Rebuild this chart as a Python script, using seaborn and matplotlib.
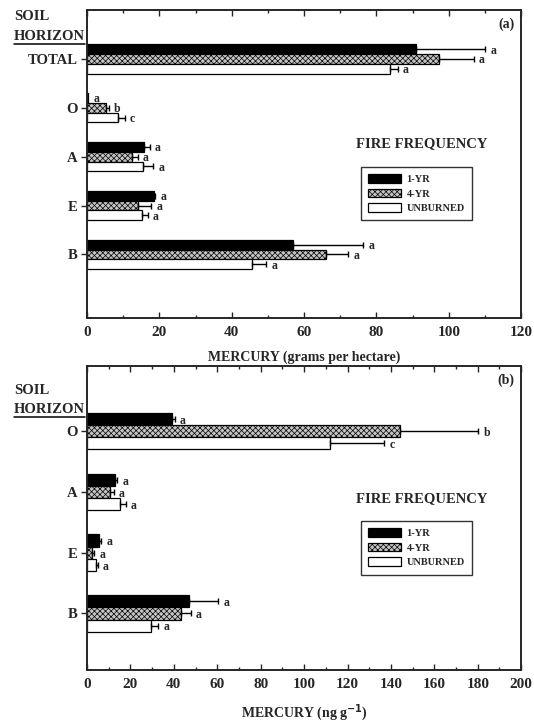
import matplotlib
matplotlib.use("Agg")
import matplotlib.pyplot as plt
import seaborn as sns
import pandas as pd
from matplotlib.patches import Patch
from matplotlib.lines import Line2D
from matplotlib.ticker import MultipleLocator

groups = ["1-YR", "4-YR", "UNBURNED"]

# (a) mercury pools, grams per hectare
horizons_a = ["TOTAL", "O", "A", "E", "B"]
yr1_a = [90.8, 0.3, 15.7, 18.5, 56.8]
yr4_a = [97.3, 5.3, 12.4, 14.0, 66.0]
unb_a = [83.8, 8.5, 15.4, 15.2, 45.7]
yr1_err_a = [19.2, 0.0, 1.6, 0.4, 19.5]
yr4_err_a = [9.6, 0.7, 1.6, 3.8, 6.2]
unb_err_a = [2.1, 1.9, 2.9, 1.6, 3.8]
yr1_let_a = ["a", "a", "a", "a", "a"]
yr4_let_a = ["a", "b", "a", "a", "a"]
unb_let_a = ["a", "c", "a", "a", "a"]

# (b) mercury concentration, ng per g
horizons_b = ["O", "A", "E", "B"]
yr1_b = [39.3, 12.7, 5.7, 46.9]
yr4_b = [144.1, 10.4, 2.5, 43.4]
unb_b = [111.7, 15.1, 3.9, 29.3]
yr1_err_b = [1.0, 1.1, 0.7, 13.4]
yr4_err_b = [36.2, 1.9, 0.8, 4.3]
unb_err_b = [25.3, 2.7, 1.0, 3.4]
yr1_let_b = ["a", "a", "a", "a"]
yr4_let_b = ["b", "a", "a", "a"]
unb_let_b = ["c", "a", "a", "a"]

sns.set_style("ticks")
plt.rcParams["font.family"] = ["Liberation Serif", "DejaVu Serif"]
plt.rcParams["font.weight"] = "bold"
plt.rcParams["mathtext.default"] = "bf"
plt.rcParams["hatch.linewidth"] = 0.5

colors = {"1-YR": "black", "4-YR": "#c4c4c4", "UNBURNED": "white"}
HATCH = "xxxxxx"


def draw_panel(ax, horizons, vals, errs, lets, xmax, ylim, tag, xlabel):
    df = pd.DataFrame({
        "horizon": horizons * 3,
        "group": [g for g in groups for _ in horizons],
        "value": vals[0] + vals[1] + vals[2],
    })
    sns.barplot(data=df, x="value", y="horizon", hue="group", order=horizons,
                hue_order=groups, palette=colors, orient="h", width=0.6,
                errorbar=None, saturation=1, edgecolor="black", linewidth=0.9,
                legend=False, ax=ax)
    n = len(horizons)
    for i, g in enumerate(groups):
        for j in range(n):
            p = ax.patches[i * n + j]
            if g == "4-YR":
                p.set_hatch(HATCH)
            y = p.get_y() + p.get_height() / 2
            x = p.get_width()
            e = errs[i][j]
            if e > 0:
                ax.errorbar(x, y, xerr=[[0], [e]], fmt="none", ecolor="black",
                            elinewidth=1.0, capsize=2, capthick=1.0)
            ax.text(x + e + xmax * 0.012, y + 0.03, lets[i][j], ha="left",
                    va="center", fontsize=8.5, fontweight="bold")

    ax.set_xlim(0, xmax)
    ax.set_ylim(*ylim)
    ax.xaxis.set_major_locator(MultipleLocator(20))
    ax.xaxis.set_minor_locator(MultipleLocator(10))
    ax.tick_params(axis="x", which="both", direction="in", top=True,
                   labelsize=11, pad=6, length=4, width=1.0)
    ax.tick_params(axis="x", which="minor", length=2.5)
    ax.tick_params(axis="y", direction="out", length=4, width=1.0,
                   labelsize=10.5, pad=3)
    for s in ax.spines.values():
        s.set_visible(True)
        s.set_linewidth(1.4)
    ax.set_ylabel("")
    ax.set_xlabel(xlabel, fontsize=10, fontweight="bold", labelpad=8)
    ax.text(0.985, 0.975, tag, transform=ax.transAxes, ha="right", va="top",
            fontsize=10, fontweight="bold")

    handles = [Patch(facecolor=colors[g], edgecolor="black", linewidth=0.9,
                     hatch=HATCH if g == "4-YR" else None) for g in groups]
    leg = ax.legend(handles, groups, loc="upper left",
                    bbox_to_anchor=(0.618, 0.508), frameon=True, fancybox=False,
                    edgecolor="black", fontsize=7.5, handlelength=3.2,
                    handleheight=0.9, labelspacing=0.45, borderpad=0.7,
                    handletextpad=0.5)
    leg.get_frame().set_linewidth(1.0)
    for t in leg.get_texts():
        t.set_fontweight("bold")
    ax.text(0.77, 0.565, "FIRE FREQUENCY", transform=ax.transAxes,
            ha="center", va="center", fontsize=10.5, fontweight="bold")


fig = plt.figure(figsize=(5.34, 7.27), dpi=100)
ax_a = fig.add_axes([0.163, 0.5626, 0.813, 0.4237])
ax_b = fig.add_axes([0.163, 0.0784, 0.813, 0.418])

draw_panel(ax_a, horizons_a, [yr1_a, yr4_a, unb_a],
           [yr1_err_a, yr4_err_a, unb_err_a],
           [yr1_let_a, yr4_let_a, unb_let_a], 120, (5.3, -1.0), "(a)",
           "MERCURY (grams per hectare)")
draw_panel(ax_b, horizons_b, [yr1_b, yr4_b, unb_b],
           [yr1_err_b, yr4_err_b, unb_err_b],
           [yr1_let_b, yr4_let_b, unb_let_b], 200, (3.93, -1.07), "(b)",
           "MERCURY (ng g$^{-1}$)")

# "SOIL / HORIZON" header with underline
fig.canvas.draw()
renderer = fig.canvas.get_renderer()
for ytop in (17, 390):
    fig.text(14 / 534, 1 - ytop / 727, "SOIL", ha="left", va="center",
             fontsize=10.5, fontweight="bold")
    t = fig.text(14 / 534, 1 - (ytop + 19) / 727, "HORIZON", ha="left",
                 va="center", fontsize=10.5, fontweight="bold")
    bb = t.get_window_extent(renderer).transformed(fig.transFigure.inverted())
    fig.add_artist(Line2D([bb.x0, bb.x1], [bb.y0 - 0.002, bb.y0 - 0.002],
                          color="black", linewidth=1.1,
                          transform=fig.transFigure))

fig.savefig("out.png", dpi=100)
